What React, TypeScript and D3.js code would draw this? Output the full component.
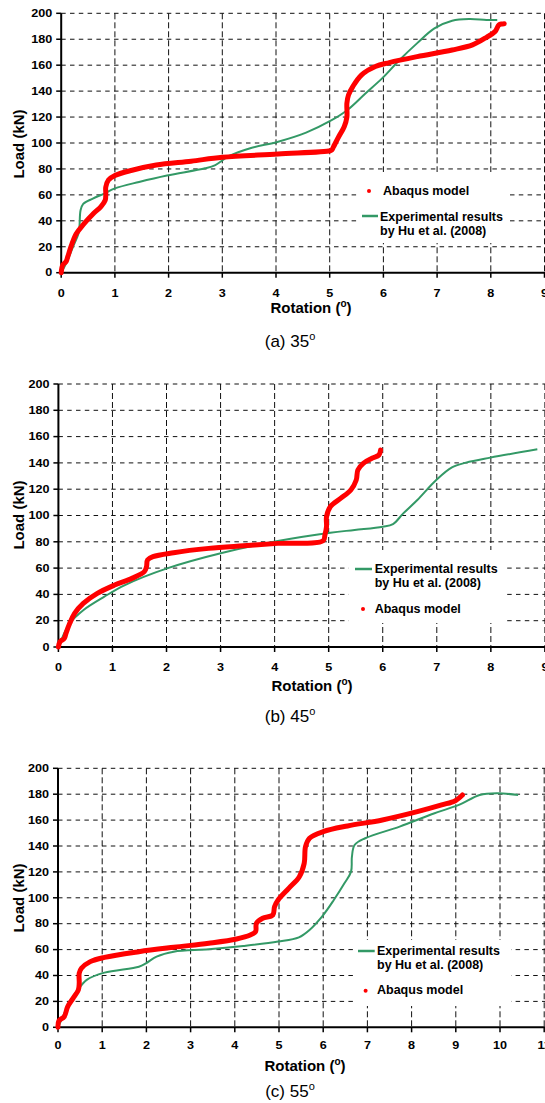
import * as d3 from 'd3';

// rotation (deg), load (kN)
const abaqus35: [number, number][] = [
  [0, 0], [0.03, 6], [0.09, 8.5], [0.12, 12], [0.19, 21], [0.28, 30], [0.41, 37], [0.61, 46],
  [0.74, 51], [0.82, 56], [0.83, 61], [0.83, 66], [0.88, 71.5], [1.0, 75], [1.32, 79], [1.77, 83],
  [2.42, 86], [3.0, 89], [4.04, 91.5], [5.01, 94], [5.04, 94.6], [5.07, 97], [5.17, 105],
  [5.27, 112.5], [5.32, 120], [5.32, 130.6], [5.35, 137], [5.43, 143.5], [5.59, 152.4],
  [5.85, 159], [6.11, 162], [6.63, 166.6], [7.28, 171.7], [7.66, 175.6], [7.92, 181.5],
  [8.08, 186], [8.15, 191], [8.21, 191.8], [8.25, 192],
];
const exp35: [number, number][] = [
  [0, 0], [0.09, 7], [0.22, 20], [0.32, 30], [0.34, 35.5], [0.36, 48], [0.41, 53], [0.58, 57],
  [0.8, 61], [1.0, 65], [1.45, 70], [1.97, 75], [2.68, 80.5], [2.87, 83], [3.13, 90], [3.52, 96],
  [4.04, 101], [4.56, 108], [5.01, 117], [5.33, 125.5], [5.66, 138], [5.98, 150], [6.3, 164],
  [6.63, 177], [6.95, 188.4], [7.28, 194.3], [7.6, 195.6], [7.92, 194.9], [8.12, 194.9],
];
const abaqus45: [number, number][] = [
  [0, 0], [0.03, 4], [0.11, 6.6], [0.14, 10.4], [0.21, 18], [0.3, 25.6], [0.46, 33.2],
  [0.72, 40.8], [1.04, 47.1], [1.36, 52.2], [1.59, 57.3], [1.63, 61], [1.65, 66.2], [1.75, 68.7],
  [2.13, 71.7], [2.78, 75], [3.42, 77], [4.06, 78.8], [4.9, 80.9], [4.93, 85.2], [4.96, 91.5],
  [4.96, 99.1], [5.03, 106.7], [5.22, 113], [5.41, 119.4], [5.51, 127], [5.54, 134.6],
  [5.64, 139.7], [5.8, 143.5], [5.93, 146], [5.96, 149.8],
];
const exp45: [number, number][] = [
  [0, 0], [0.08, 7.9], [0.21, 18], [0.46, 28], [0.85, 38.3], [1.23, 47.1], [2.01, 59.8],
  [3.04, 71.7], [4.06, 80.6], [5.03, 86.9], [5.48, 89], [6.0, 91.5], [6.19, 93.5], [6.38, 101.6],
  [6.64, 111.8], [6.99, 127], [7.28, 136.6], [7.54, 140.2], [7.99, 144], [8.86, 150.3],
];
const abaqus55: [number, number][] = [
  [0, 0], [0.02, 5.1], [0.14, 8.2], [0.22, 16], [0.34, 22.4], [0.46, 28.8], [0.48, 34],
  [0.48, 41.7], [0.53, 45.6], [0.73, 50.7], [1.05, 54], [1.83, 58.4], [2.62, 61.8], [3.41, 64.9],
  [4.04, 68.2], [4.35, 71.3], [4.47, 73.9], [4.49, 80.3], [4.63, 84.2], [4.86, 86.7], [4.9, 93.2],
  [4.98, 98.3], [5.22, 107.3], [5.46, 116.3], [5.57, 126.6], [5.6, 139.5], [5.69, 146],
  [6.0, 151.1], [6.55, 155.5], [7.34, 160.1], [8.13, 166.5], [8.68, 171.7], [8.99, 175],
  [9.15, 179.4],
];
const exp55: [number, number][] = [
  [0, 0], [0.06, 4.4], [0.22, 16], [0.42, 27.5], [0.65, 36.6], [1.05, 42.2], [1.83, 46.8],
  [1.99, 49.4], [2.23, 54.6], [2.62, 58.4], [3.41, 60.2], [4.19, 62.8], [4.98, 66.2], [5.45, 69.5],
  [5.69, 75.2], [6.0, 86.7], [6.24, 98.3], [6.48, 111.2], [6.63, 120.2], [6.65, 131.8],
  [6.71, 140.8], [6.95, 146], [7.73, 155], [8.52, 165.3], [9.07, 171.7], [9.54, 179.4],
  [9.94, 180.7], [10.41, 179.4],
];

const loadTicks = [0, 20, 40, 60, 80, 100, 120, 140, 160, 180, 200];
const rotTicks9 = [0, 1, 2, 3, 4, 5, 6, 7, 8, 9];
const rotTicks11 = [0, 1, 2, 3, 4, 5, 6, 7, 8, 9, 10, 11];

const RED = '#ff0000';
const GREEN = '#339966';
const FONT = '"Liberation Sans", Arial, sans-serif';

type Panel = {
  top: number; bottom: number; left: number; right: number;
  xMax: number; xTicks: number[];
  abaqus: [number, number][]; exp: [number, number][];
  box: [number, number, number, number];
  dot: [number, number]; abaqusText: [number, number];
  expLine: [number, number, number]; expText: [number, number];
  tickDy: number;
  yTitle: [number, number]; xTitle: [number, number];
  caption: [number, number]; captionLabel: string;
};

const panels: Panel[] = [
  {
    top: 13.3, bottom: 272.7, left: 61.2, right: 544.5, xMax: 9, xTicks: rotTicks9,
    abaqus: abaqus35, exp: exp35, box: [357, 172, 508, 243],
    dot: [369, 191], abaqusText: [383, 195], expLine: [362, 378, 216], expText: [380, 220.5],
    tickDy: 24, yTitle: [24, 144], xTitle: [311, 313.3], caption: [290, 347], captionLabel: '(a) 35',
  },
  {
    top: 384, bottom: 647, left: 58.4, right: 544.9, xMax: 9, xTicks: rotTicks9,
    abaqus: abaqus45, exp: exp45, box: [349, 550, 507, 623],
    dot: [363, 609], abaqusText: [374.7, 613], expLine: [355, 372, 569], expText: [374.7, 573],
    tickDy: 23.7, yTitle: [24, 515], xTitle: [312, 690.7], caption: [290, 722], captionLabel: '(b) 45',
  },
  {
    top: 768.3, bottom: 1027.3, left: 58, right: 544.2, xMax: 11, xTicks: rotTicks11,
    abaqus: abaqus55, exp: exp55, box: [354, 940, 511, 1006],
    dot: [365.6, 990.7], abaqusText: [377, 994], expLine: [358, 374.7, 951], expText: [377, 955],
    tickDy: 22, yTitle: [24, 898], xTitle: [305, 1070.7], caption: [290, 1097], captionLabel: '(c) 55',
  },
];

// tick numbers in the original are drawn a little wide
const TICK_SX = 1.2;

function Chart({ p }: { p: Panel }) {
  const x = d3.scaleLinear().domain([0, p.xMax]).range([p.left, p.right]);
  const y = d3.scaleLinear().domain([0, 200]).range([p.bottom, p.top]);
  const line = d3.line<[number, number]>()
    .x(d => x(d[0]))
    .y(d => y(d[1]))
    .curve(d3.curveCatmullRom.alpha(0.5));
  const [bx0, by0, bx1, by1] = p.box;
  return (
    <g>
      {/* grid */}
      {loadTicks.filter(t => t > 0).map(t => (
        <line key={'h' + t} x1={p.left} x2={545} y1={y(t)} y2={y(t)}
          stroke="#111" strokeWidth={1} strokeDasharray="4.5,4.3" />
      ))}
      {p.xTicks.filter(t => t > 0).map(t => (
        <line key={'v' + t} x1={x(t)} x2={x(t)} y1={p.top} y2={p.bottom}
          stroke="#111" strokeWidth={1} strokeDasharray="6,3" />
      ))}
      {/* legend box */}
      <rect x={bx0} y={by0} width={bx1 - bx0} height={by1 - by0} fill="#fff" />

      {/* axes */}
      <line x1={p.left} x2={p.left} y1={p.top} y2={p.bottom + 1} stroke="#000" strokeWidth={2} />
      <line x1={p.left - 1} x2={545} y1={p.bottom} y2={p.bottom} stroke="#000" strokeWidth={2} />
      {loadTicks.map(t => (
        <g key={'yt' + t}>
          <line x1={p.left - 5} x2={p.left} y1={y(t)} y2={y(t)} stroke="#000" strokeWidth={1.5} />
          <text transform={`translate(${p.left - 9},${y(t)}) scale(${TICK_SX},1)`} dy="0.36em"
            textAnchor="end" fontSize={10.5} fontWeight="bold" fontFamily={FONT}>{t}</text>
        </g>
      ))}
      {p.xTicks.map(t => (
        <g key={'xt' + t}>
          <line x1={x(t)} x2={x(t)} y1={p.bottom} y2={p.bottom + 5} stroke="#000" strokeWidth={1.5} />
          <text transform={`translate(${x(t)},${p.bottom + p.tickDy}) scale(${TICK_SX},1)`}
            textAnchor="middle" fontSize={10.5} fontWeight="bold" fontFamily={FONT}>{t}</text>
        </g>
      ))}

      {/* series */}
      <path d={line(p.exp) || ''} fill="none" stroke={GREEN} strokeWidth={2} />
      <path d={line(p.abaqus) || ''} fill="none" stroke={RED} strokeWidth={5}
        strokeLinejoin="round" strokeLinecap="round" />

      {/* legend */}
      <circle cx={p.dot[0]} cy={p.dot[1]} r={2} fill={RED} />
      <text x={p.abaqusText[0]} y={p.abaqusText[1]} fontSize={12.5} fontWeight="bold"
        fontFamily={FONT}>Abaqus model</text>
      <line x1={p.expLine[0]} x2={p.expLine[1]} y1={p.expLine[2]} y2={p.expLine[2]}
        stroke={GREEN} strokeWidth={2.5} />
      <text x={p.expText[0]} y={p.expText[1]} fontSize={12.5} fontWeight="bold" fontFamily={FONT}>
        Experimental results
      </text>
      <text x={p.expText[0]} y={p.expText[1] + 14.3} fontSize={12.5} fontWeight="bold"
        fontFamily={FONT}>by Hu et al. (2008)</text>

      {/* titles */}
      <text transform={`translate(${p.yTitle[0]},${p.yTitle[1]}) rotate(-90)`} textAnchor="middle"
        fontSize={15} fontWeight="bold" fontFamily={FONT}>Load (kN)</text>
      <text x={p.xTitle[0]} y={p.xTitle[1]} textAnchor="middle" fontSize={15} fontWeight="bold"
        fontFamily={FONT}>
        Rotation (<tspan fontSize={10} dy={-6}>o</tspan><tspan dy={6}>)</tspan>
      </text>
      <text x={p.caption[0]} y={p.caption[1]} textAnchor="middle" fontSize={17} fontFamily={FONT}>
        {p.captionLabel}<tspan fontSize={11} dy={-7}>o</tspan>
      </text>
    </g>
  );
}

export default function App() {
  return (
    <svg width={545} height={1103} style={{ position: 'absolute', left: 0, top: 0, background: '#fff' }}>
      {panels.map((p, i) => <Chart key={i} p={p} />)}
    </svg>
  );
}
